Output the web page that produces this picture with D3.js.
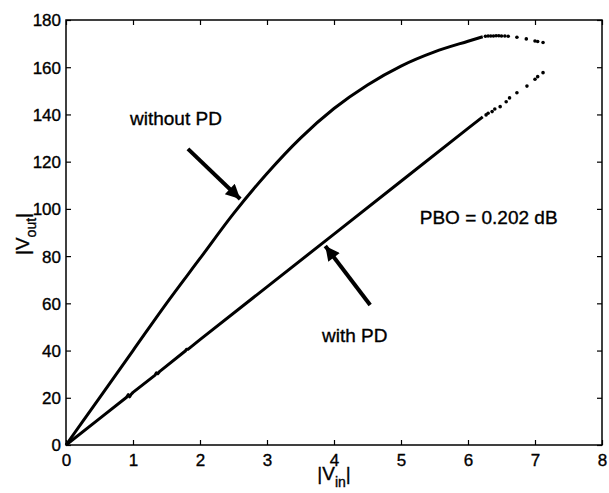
<!DOCTYPE html>
<html>
<head>
<meta charset="utf-8">
<script src="https://cdn.jsdelivr.net/npm/d3@7"></script>
<style>
  body { margin: 0; background: #fff; }
  text { font-family: "Liberation Sans", Arial, Helvetica, sans-serif; fill: #000; stroke: #000; stroke-width: 0.35px; }
</style>
</head>
<body>
<svg id="chart" width="609" height="493"></svg>
<script>
// ---- data ----
const xTicks = [0, 1, 2, 3, 4, 5, 6, 7, 8];
const yTicks = [0, 20, 40, 60, 80, 100, 120, 140, 160, 180];

// without PD (solid part)
const withoutPDx = [0, 0.5, 1, 1.5, 2, 2.5, 3, 3.5, 4, 4.5, 5, 5.5, 6, 6.22];
const withoutPDy = [0, 20, 40, 60, 79, 98, 115, 130, 142.5, 152.5, 160.5, 166.5, 171, 172.9];
// without PD (dotted tail)
const withoutDotsX = [6.26, 6.3, 6.34, 6.38, 6.42, 6.46, 6.5, 6.55, 6.6, 6.73, 6.87, 7.0, 7.04, 7.12];
const withoutDotsY = [173.1, 173.2, 173.2, 173.2, 173.3, 173.3, 173.2, 173.2, 173.1, 172.7, 172.0, 171.1, 170.9, 170.5];

// with PD (solid part)
const withPDx = [0, 0.5, 0.9, 0.93, 0.95, 0.97, 1.0, 1.33, 1.35, 1.37, 1.4, 1.78, 1.8, 1.82, 2, 3, 4, 5, 6, 6.22];
const withPDy = [0, 11.2, 20.1, 21.3, 20.4, 21.4, 22.3, 29.6, 30.6, 30.2, 31.2, 39.8, 40.6, 40.5, 44.6, 67, 89.3, 111.7, 134.1, 139];
// with PD (dotted tail)
const withDotsX = [6.27, 6.3, 6.36, 6.4, 6.48, 6.57, 6.62, 6.73, 6.88, 7.0, 7.04, 7.12];
const withDotsY = [139.8, 140.5, 141.2, 142.3, 143.3, 145.4, 147, 149.2, 152, 154.9, 156, 157.7];

// annotations (data coordinates)
const labels = [
  { text: "without PD", x: 0.955, y: 135.5 },
  { text: "with PD", x: 3.82, y: 43.6 },
  { text: "PBO = 0.202 dB", x: 5.28, y: 93.6 }
];
const arrows = [
  { x1: 1.82, y1: 125.4, x2: 2.6, y2: 104.2 },
  { x1: 4.54, y1: 59.3, x2: 3.87, y2: 84.3 }
];

// ---- layout ----
const svg = d3.select("#chart");
const L = 66, T = 20, W = 536, H = 425;
const x = d3.scaleLinear().domain([0, 8]).range([L, L + W]);
const y = d3.scaleLinear().domain([0, 180]).range([T + H, T]);

// frame
svg.append("rect").attr("x", L).attr("y", T).attr("width", W).attr("height", H)
  .attr("fill", "none").attr("stroke", "#000").attr("stroke-width", 1.5);

const tickLen = 5;
const gx = svg.append("g").attr("transform", `translate(0,${T + H})`)
  .call(d3.axisBottom(x).tickValues(xTicks).tickSizeInner(-tickLen).tickSizeOuter(0).tickPadding(9));
const gy = svg.append("g").attr("transform", `translate(${L},0)`)
  .call(d3.axisLeft(y).tickValues(yTicks).tickSizeInner(-tickLen).tickSizeOuter(0).tickPadding(5));
const gt = svg.append("g").attr("transform", `translate(0,${T})`)
  .call(d3.axisTop(x).tickValues(xTicks).tickSizeInner(-tickLen).tickSizeOuter(0).tickFormat(""));
const gr = svg.append("g").attr("transform", `translate(${L + W},0)`)
  .call(d3.axisRight(y).tickValues(yTicks).tickSizeInner(-tickLen).tickSizeOuter(0).tickFormat(""));

[gx, gy, gt, gr].forEach(g => {
  g.select(".domain").remove();
  g.selectAll(".tick line").attr("stroke", "#000").attr("stroke-width", 1.2);
  g.selectAll(".tick text").attr("font-size", 17).attr("fill", "#000")
    .attr("font-family", "Liberation Sans, Arial, sans-serif");
});
gx.selectAll(".tick text").attr("dy", "0.71em");
gy.selectAll(".tick text").attr("dy", "0.35em");

// curves
const line = d3.line().x(d => x(d[0])).y(d => y(d[1])).curve(d3.curveMonotoneX);
const upper = withoutPDx.map((v, i) => [v, withoutPDy[i]]);
const lower = withPDx.map((v, i) => [v, withPDy[i]]);
svg.append("path").attr("d", line(upper)).attr("fill", "none").attr("stroke", "#000").attr("stroke-width", 3);
svg.append("path").attr("d", d3.line().x(d => x(d[0])).y(d => y(d[1]))(lower))
  .attr("fill", "none").attr("stroke", "#000").attr("stroke-width", 3).attr("stroke-linejoin", "round");

const dots = withoutDotsX.map((v, i) => [v, withoutDotsY[i]])
  .concat(withDotsX.map((v, i) => [v, withDotsY[i]]));
svg.append("g").selectAll("circle").data(dots).join("circle")
  .attr("cx", d => x(d[0])).attr("cy", d => y(d[1])).attr("r", 1.8).attr("fill", "#000");

// arrows
svg.append("defs").append("marker")
  .attr("id", "head").attr("viewBox", "0 0 10 10").attr("refX", 10).attr("refY", 5)
  .attr("markerWidth", 4.2).attr("markerHeight", 3.6).attr("markerUnits", "strokeWidth")
  .attr("orient", "auto")
  .append("path").attr("d", "M0,0 L10,5 L0,10 z").attr("fill", "#000");
svg.append("g").selectAll("line").data(arrows).join("line")
  .attr("x1", d => x(d.x1)).attr("y1", d => y(d.y1))
  .attr("x2", d => x(d.x2)).attr("y2", d => y(d.y2))
  .attr("stroke", "#000").attr("stroke-width", 4).attr("marker-end", "url(#head)");

// text labels
svg.append("g").selectAll("text").data(labels).join("text")
  .attr("x", d => x(d.x)).attr("y", d => y(d.y))
  .attr("font-size", 19).text(d => d.text);

// axis titles
const xt = svg.append("text").attr("x", x(4)).attr("y", 480).attr("text-anchor", "middle").attr("font-size", 19);
xt.append("tspan").text("|V");
xt.append("tspan").attr("font-size", 14).attr("dy", 7).text("in");
xt.append("tspan").attr("dy", -7).text("|");

const yt = svg.append("text").attr("transform", `translate(29,234) rotate(-90)`)
  .attr("text-anchor", "middle").attr("font-size", 19);
yt.append("tspan").text("|V");
yt.append("tspan").attr("font-size", 14).attr("dy", 7).text("out");
yt.append("tspan").attr("dy", -7).text("|");
</script>
</body>
</html>
